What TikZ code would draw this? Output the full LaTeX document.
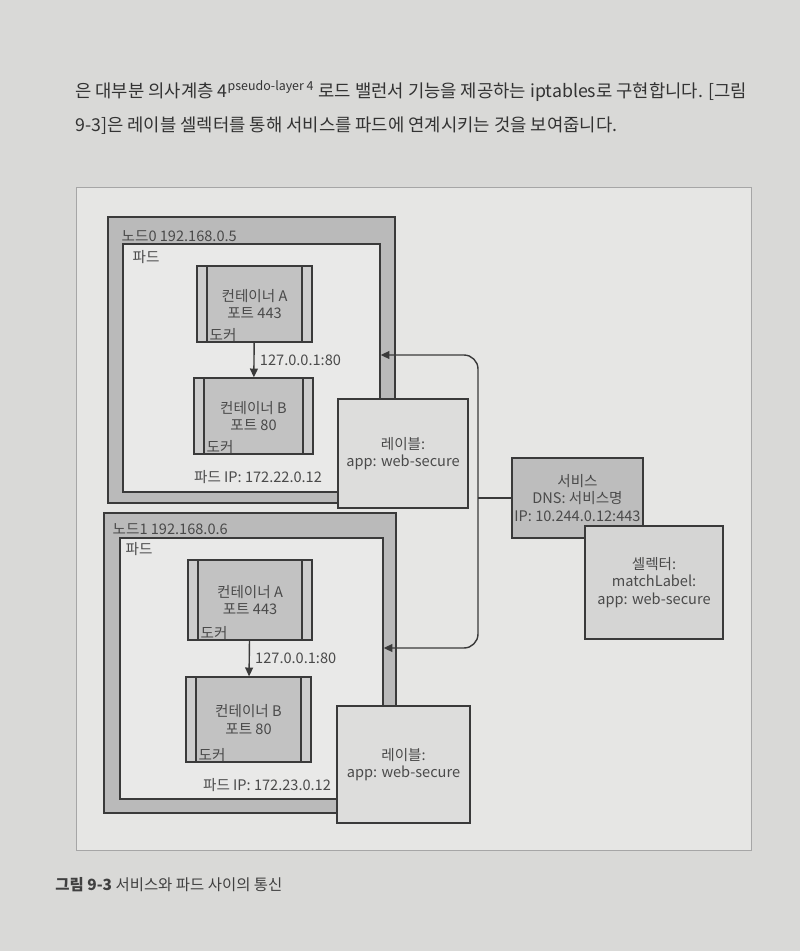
\documentclass[tikz,border=0pt]{standalone}
\usepackage{fontspec}
\setmainfont{Noto Sans CJK KR}
\usetikzlibrary{arrows.meta,calc}

\definecolor{pagec}{HTML}{D9D9D7}
\definecolor{framec}{HTML}{E6E6E4}
\definecolor{linec}{HTML}{3A3A3A}
\definecolor{txtc}{HTML}{4A4A4A}
\definecolor{nodec}{HTML}{BABABA}
\definecolor{podc}{HTML}{E9E9E8}
\definecolor{contc}{HTML}{C2C2C2}
\definecolor{stripc}{HTML}{CDCDCD}
\definecolor{labelc}{HTML}{DDDDDC}
\definecolor{svcc}{HTML}{BDBDBD}
\definecolor{selc}{HTML}{D5D5D4}

\tikzset{
  box/.style={draw=linec, line width=0.8pt, inner sep=0pt, align=center},
  nodebox/.style={box, fill=nodec},
  podbox/.style={box, fill=podc},
  container/.style={box, fill=contc,
    path picture={
      \fill[stripc] (path picture bounding box.north west) rectangle ([xshift=0.2cm]path picture bounding box.south west);
      \fill[stripc] (path picture bounding box.north east) rectangle ([xshift=-0.2cm]path picture bounding box.south east);
      \draw[linec, line width=0.8pt] ([xshift=0.2cm]path picture bounding box.north west) -- ([xshift=0.2cm]path picture bounding box.south west);
      \draw[linec, line width=0.8pt] ([xshift=-0.2cm]path picture bounding box.north east) -- ([xshift=-0.2cm]path picture bounding box.south east);
    },
    postaction={draw=linec, line width=0.8pt}},
  labelbox/.style={box, fill=labelc},
  tag/.style={anchor=west, inner sep=0pt},
  link/.style={draw=linec, line width=0.8pt},
  flow/.style={link, -{Triangle[length=5pt, width=4.5pt]}},
  twoway/.style={link, {Triangle[length=5pt, width=4.5pt]}-{Triangle[length=5pt, width=4.5pt]}},
}

\begin{document}
\begin{tikzpicture}[x=0.02cm, y=-0.02cm,
  every node/.style={text=txtc, font=\fontsize{8.3}{9.8}\selectfont}]
  \useasboundingbox[fill=pagec] (0,0) rectangle (800,951);

  % page text
  \node[tag, text=black!80, font=\fontsize{10.1}{12}\selectfont] (line1) at (75,91)
    {은 대부분 의사계층 4\textsuperscript{pseudo-layer 4} 로드 밸런서 기능을 제공하는 iptables로 구현합니다. [그림};
  \node[tag, text=black!80, font=\fontsize{10.1}{12}\selectfont] (line2) at (75,126)
    {9-3]은 레이블 셀렉터를 통해 서비스를 파드에 연계시키는 것을 보여줍니다.};

  \node[draw=black!35, line width=0.5pt, fill=framec, minimum width=13.52cm, minimum height=13.26cm] (frame) at (414,519) {};

  % node 0
  \node[nodebox, minimum width=5.74cm, minimum height=5.72cm] (n0) at (251.5,360) {};
  \node[tag] (n0name) at ($(n0.north west)+(14,20)$) {노드0 192.168.0.5};
  \node[podbox, minimum width=5.14cm, minimum height=4.96cm] (p0) at (251.5,368) {};
  \node[tag] (p0name) at ($(p0.north west)+(10,14)$) {파드};
  \node[container, minimum width=2.3cm, minimum height=1.52cm] (ca0) at (254.5,304) {컨테이너 A\\포트 443};
  \node[tag] (da0) at ($(ca0.south west)+(13,-8)$) {도커};
  \node[container, minimum width=2.38cm, minimum height=1.52cm] (cb0) at (253.5,416) {컨테이너 B\\포트 80};
  \node[tag] (db0) at ($(cb0.south west)+(13,-8)$) {도커};
  \draw[flow] (ca0) -- node[right, inner sep=3pt] {127.0.0.1:80} (cb0);
  \node (ip0) at (258,477) {파드 IP: 172.22.0.12};

  % node 1
  \node[nodebox, minimum width=5.84cm, minimum height=6cm] (n1) at (250,663) {};
  \node[tag] (n1name) at ($(n1.north west)+(9,17)$) {노드1 192.168.0.6};
  \node[podbox, minimum width=5.26cm, minimum height=5.22cm] (p1) at (251.5,668.5) {};
  \node[tag] (p1name) at ($(p1.north west)+(6,12)$) {파드};
  \node[container, minimum width=2.48cm, minimum height=1.6cm] (ca1) at (250,600) {컨테이너 A\\포트 443};
  \node[tag] (da1) at ($(ca1.south west)+(13,-8)$) {도커};
  \node[container, minimum width=2.5cm, minimum height=1.7cm] (cb1) at (248.5,719.5) {컨테이너 B\\포트 80};
  \node[tag] (db1) at ($(cb1.south west)+(13,-8)$) {도커};
  \draw[flow] (ca1) -- node[right, inner sep=3pt] {127.0.0.1:80} (cb1);
  \node (ip1) at (267,785) {파드 IP: 172.23.0.12};

  % service wiring
  \coordinate (bus0) at (478,355);
  \coordinate (bus1) at (478,648);
  \draw[twoway, rounded corners=8pt] (p0.east |- bus0) -- (bus0) -- (bus1) -- (p1.east |- bus1);

  \node[labelbox, minimum width=2.6cm, minimum height=2.18cm] (lb0) at (403,453.5) {레이블:\\app: web-secure};
  \node[labelbox, minimum width=2.66cm, minimum height=2.34cm] (lb1) at (403.5,764.5) {레이블:\\app: web-secure};

  \node[box, fill=svcc, minimum width=2.62cm, minimum height=1.6cm] (svc) at (577.5,498) {서비스\\DNS: 서비스명\\IP: 10.244.0.12:443};
  \draw[link] (svc.west) -- (svc.west -| bus0);
  \node[box, fill=selc, minimum width=2.76cm, minimum height=2.26cm] (sel) at (654,582.5) {셀렉터:\\matchLabel:\\app: web-secure};

  % caption
  \node[tag, text=black!75, font=\fontsize{8.8}{10}\selectfont] (cap) at (55,885) {\textbf{그림 9-3} 서비스와 파드 사이의 통신};
\end{tikzpicture}
\end{document}
